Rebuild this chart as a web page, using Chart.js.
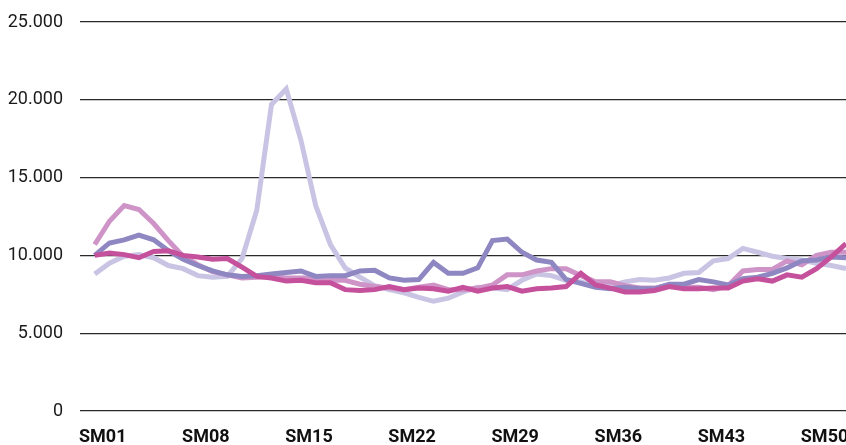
<!DOCTYPE html>
<html>
<head>
<meta charset="utf-8">
<script src="https://cdn.jsdelivr.net/npm/chart.js@4.4.1/dist/chart.umd.min.js"></script>
<style>
  html, body { margin: 0; padding: 0; background: #ffffff; }
  #wrap { width: 846px; height: 445px; }
</style>
</head>
<body>
<div id="wrap"><canvas id="c" width="846" height="445"></canvas></div>
<script>
const categories = ['SM01','SM02','SM03','SM04','SM05','SM06','SM07','SM08','SM09','SM10',
  'SM11','SM12','SM13','SM14','SM15','SM16','SM17','SM18','SM19','SM20',
  'SM21','SM22','SM23','SM24','SM25','SM26','SM27','SM28','SM29','SM30',
  'SM31','SM32','SM33','SM34','SM35','SM36','SM37','SM38','SM39','SM40',
  'SM41','SM42','SM43','SM44','SM45','SM46','SM47','SM48','SM49','SM50',
  'SM51','SM52'];

const tickLabels = ['SM01','SM08','SM15','SM22','SM29','SM36','SM43','SM50'];
const yTicks = [0, 5000, 10000, 15000, 20000, 25000];

const seriesLight = [8800, 9500, 9950, 10050, 9850, 9350, 9150, 8700, 8600, 8650,
  9800, 12900, 19700, 20700, 17400, 13200, 10700, 9200, 8600, 8050,
  7800, 7600, 7300, 7050, 7250, 7650, 7950, 7900, 7800, 8400,
  8800, 8700, 8400, 8300, 8050, 8050, 8300, 8450, 8400, 8550,
  8850, 8900, 9650, 9800, 10450, 10200, 9950, 9800, 9700, 9500,
  9350, 9150];

const seriesPink = [10700, 12200, 13200, 12950, 12050, 10950, 9950, 9400, 8950, 8750,
  8550, 8600, 8650, 8550, 8550, 8550, 8400, 8400, 8150, 8000,
  7900, 7800, 7950, 8100, 7800, 7800, 7900, 8100, 8750, 8750,
  9000, 9150, 9150, 8700, 8300, 8300, 8050, 7900, 7900, 8100,
  7950, 7950, 7800, 8050, 9000, 9100, 9100, 9650, 9400, 10000,
  10200, 10200];

const seriesPurple = [10000, 10800, 11000, 11300, 11000, 10300, 9750, 9350, 9000, 8750,
  8650, 8700, 8800, 8900, 9000, 8650, 8700, 8700, 9000, 9050,
  8550, 8400, 8450, 9550, 8850, 8850, 9200, 10950, 11050, 10200,
  9700, 9550, 8450, 8200, 7950, 7850, 7950, 7850, 7850, 8150,
  8150, 8450, 8300, 8100, 8500, 8600, 8850, 9200, 9650, 9700,
  9900, 9850];

const seriesMagenta = [10000, 10150, 10050, 9850, 10250, 10300, 10000, 9900, 9750, 9800,
  9250, 8650, 8550, 8350, 8400, 8250, 8250, 7800, 7750, 7800,
  8000, 7800, 7900, 7850, 7700, 7950, 7700, 7900, 8000, 7700,
  7850, 7900, 8000, 8850, 8100, 7900, 7650, 7650, 7750, 8000,
  7850, 7850, 7900, 7900, 8350, 8500, 8350, 8750, 8600, 9150,
  9900, 10750];

const seriesNames = ['Reihe 1', 'Reihe 2', 'Reihe 3', 'Reihe 4'];
const colors = ['#c9c4e3', '#cf94c7', '#8e87c2', '#c5519c'];

function toPoints(arr) {
  return arr.map((v, i) => ({ x: i + 1, y: v }));
}

function fmt(v) {
  return String(v).replace(/\B(?=(\d{3})+(?!\d))/g, '.');
}

const FONT = "Roboto, 'Liberation Sans', Arial, sans-serif";

const ds = (label, data, color, order) => ({
  label, data: toPoints(data), borderColor: color, backgroundColor: color,
  borderWidth: 5, pointRadius: 0, pointHoverRadius: 0, tension: 0, fill: false,
  order, borderJoinStyle: 'miter', borderCapStyle: 'butt'
});

new Chart(document.getElementById('c'), {
  type: 'line',
  data: {
    datasets: [
      ds(seriesNames[3], seriesMagenta, colors[3], 0),
      ds(seriesNames[2], seriesPurple, colors[2], 1),
      ds(seriesNames[1], seriesPink, colors[1], 2),
      ds(seriesNames[0], seriesLight, colors[0], 3)
    ]
  },
  options: {
    responsive: false,
    animation: false,
    layout: { padding: { top: 22, right: 0, left: 0, bottom: 0 } },
    plugins: { legend: { display: false }, tooltip: { enabled: false } },
    scales: {
      x: {
        type: 'linear',
        min: 0,
        max: categories.length,
        afterBuildTicks: (scale) => {
          scale.ticks = tickLabels.map(l => ({ value: categories.indexOf(l) + 1 }));
        },
        afterFit: (scale) => {
          scale.height = 34;
          scale.paddingLeft = 0; scale.paddingRight = 0;
        },
        grid: { display: false, drawTicks: false },
        border: { display: false },
        ticks: {
          autoSkip: false,
          maxRotation: 0,
          padding: 16,
          labelOffset: 8,
          color: '#111',
          font: { family: FONT, size: 18, weight: 'bold' },
          callback: (v) => categories[v - 1]
        }
      },
      y: {
        min: 0,
        max: 25000,
        afterBuildTicks: (scale) => {
          scale.ticks = yTicks.map(v => ({ value: v }));
        },
        afterFit: (scale) => {
          scale.width = 80;
          scale.paddingTop = 0; scale.paddingBottom = 0;
        },
        grid: { color: '#2a2a2a', lineWidth: 1.3, drawTicks: false },
        border: { display: false },
        ticks: {
          padding: 17,
          color: '#1a1a1a',
          font: { family: FONT, size: 18 },
          callback: (v) => fmt(v)
        }
      }
    }
  }
});
</script>
</body>
</html>
